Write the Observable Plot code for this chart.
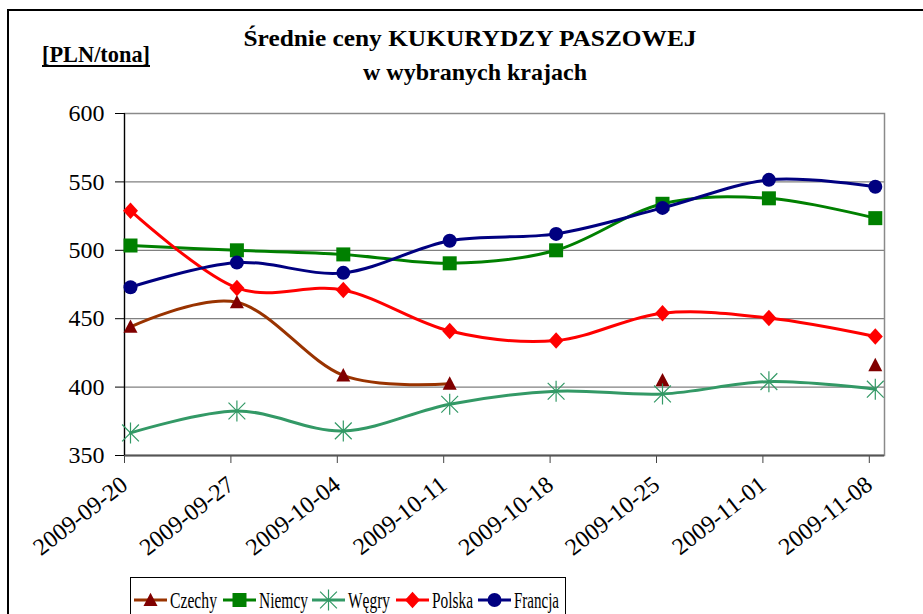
<!DOCTYPE html>
<html><head><meta charset="utf-8">
<script src="https://cdn.jsdelivr.net/npm/d3@7"></script>
<script src="https://cdn.jsdelivr.net/npm/@observablehq/plot@0.6"></script>
<style>
html,body{margin:0;padding:0;background:#fff;}
#wrap{position:relative;width:923px;height:614px;overflow:hidden;font-family:'Liberation Serif','DejaVu Serif',serif;background:#fff;}
#chart{position:absolute;left:0;top:0;}
#border{position:absolute;left:7px;top:9px;width:940px;height:640px;border-left:2px solid #000;border-top:2px solid #000;pointer-events:none;}
#overlay{position:absolute;left:0;top:0;pointer-events:none;}
#overlay text, #chart text{font-family:'Liberation Serif','DejaVu Serif',serif;}
</style></head><body>
<div id="wrap"><div id="chart"></div><div id="border"></div><svg id="overlay" width="923" height="614"></svg></div>
<script>
// ---- data ----
const dates = ["2009-09-20","2009-09-27","2009-10-04","2009-10-11","2009-10-18","2009-10-25","2009-11-01","2009-11-08"];
const czechy  = [444, 462, 408.5, 402.5, null, 405, null, 416];
const niemcy  = [503.5, 500, 497, 490.5, 500, 534, 538, 523.5];
const wegry   = [366.5, 382.5, 368, 387.5, 397, 395, 404, 398.5];
const polska  = [529, 472.5, 471, 441, 434, 454, 450.5, 437];
const francja = [473, 491, 483.5, 507, 512, 531, 551.5, 546.5];
const seriesNames = ["Czechy","Niemcy","Węgry","Polska","Francja"];
const yTicks = [350, 400, 450, 500, 550, 600];
const titleLine1 = "Średnie ceny KUKURYDZY PASZOWEJ";
const titleLine2 = "w wybranych krajach";
const unitLabel = "[PLN/tona]";

// ---- styles ----
const lineColors   = ["#993300","#008000","#339966","#ff0000","#000080"];
const markerColors = ["#800000","#008000","#339966","#ff0000","#000080"];
const FONT = "'Liberation Serif','DejaVu Serif',serif";

const rad = size => Math.sqrt(size / Math.PI);
const symTriangle = {draw(c, s){const r = rad(s); c.moveTo(0,-r*1.05); c.lineTo(r, r*0.85); c.lineTo(-r, r*0.85); c.closePath();}};
const symSquare = {draw(c, s){const r = rad(s); c.rect(-r,-r,2*r,2*r);}};
const symStar = {draw(c, s){const r = rad(s); const d = r*0.8; c.moveTo(0,-r); c.lineTo(0,r); c.moveTo(-d,-d); c.lineTo(d,d); c.moveTo(-d,d); c.lineTo(d,-d);}};
const symDiamond = {draw(c, s){const r = rad(s); c.moveTo(0,-r*1.1); c.lineTo(r,0); c.lineTo(0,r*1.1); c.lineTo(-r,0); c.closePath();}};
const symCircle = {draw(c, s){const r = rad(s); c.moveTo(r,0); c.arc(0,0,r,0,2*Math.PI);}};
const symbols = [symTriangle, symSquare, symStar, symDiamond, symCircle];
const symR = [7, 7, 10.5, 7.5, 7];
const strokeSym = [false, false, true, false, false];

const parse = d3.utcParse("%Y-%m-%d");
const xDates = dates.map(parse);
const values = [czechy, niemcy, wegry, polska, francja];
const rows = [];
seriesNames.forEach((s, i) => dates.forEach((d, j) => rows.push({series: s, idx: i, date: xDates[j], value: values[i][j]})));

const marks = [
  Plot.gridY({ticks: [400, 450, 500, 550], stroke: "#808080", strokeOpacity: 1, strokeWidth: 1.2}),
  Plot.frame({stroke: "#8a8a8a", strokeWidth: 1.5}),
  Plot.axisY({ticks: yTicks, tickSize: 9, tickPadding: 11, fontSize: 24, tickFormat: d => String(d), stroke: "#000", label: null}),
  Plot.axisX({ticks: xDates, tickFormat: d3.utcFormat("%Y-%m-%d"), tickRotate: -38, tickSize: 8, tickPadding: 18, fontSize: 24, stroke: "#444", label: null}),
  Plot.ruleY([350], {stroke: "#555", strokeWidth: 2}),
  Plot.ruleX([xDates[0]], {stroke: "#000", strokeWidth: 1.2})
];
seriesNames.forEach((s, i) => {
  const sub = rows.filter(r => r.idx === i);
  marks.push(Plot.line(sub, {x: "date", y: "value", stroke: lineColors[i], strokeWidth: 3, curve: "cardinal", dx: 6}));
  const pts = sub.filter(r => r.value != null);
  if (strokeSym[i]) {
    marks.push(Plot.dot(pts, {x: "date", y: "value", symbol: symbols[i], r: symR[i], fill: "none", stroke: markerColors[i], strokeWidth: 1.2, dx: 6}));
  } else {
    marks.push(Plot.dot(pts, {x: "date", y: "value", symbol: symbols[i], r: symR[i], fill: markerColors[i], stroke: "none", dx: 6}));
  }
});

const chart = Plot.plot({
  width: 923, height: 614,
  marginLeft: 124, marginRight: 39, marginTop: 113, marginBottom: 159,
  style: {fontFamily: FONT, color: "#000", background: "transparent", overflow: "visible"},
  x: {type: "utc", domain: [parse("2009-09-20"), parse("2009-11-09")], label: null},
  y: {domain: [350, 600], label: null},
  marks
});
document.getElementById("chart").appendChild(chart);

// ---- titles & legend ----
const ov = d3.select("#overlay");
ov.append("text").attr("x", 470).attr("y", 46).attr("text-anchor", "middle")
  .style("font-family", FONT).attr("font-weight", "bold").attr("font-size", 23)
  .attr("textLength", 453).attr("lengthAdjust", "spacingAndGlyphs").text(titleLine1);
ov.append("text").attr("x", 475).attr("y", 80).attr("text-anchor", "middle")
  .style("font-family", FONT).attr("font-weight", "bold").attr("font-size", 23)
  .attr("textLength", 224).attr("lengthAdjust", "spacingAndGlyphs").text(titleLine2);
ov.append("text").attr("x", 42).attr("y", 62)
  .style("font-family", FONT).attr("font-weight", "bold").attr("font-size", 23)
  .attr("textLength", 108).attr("lengthAdjust", "spacingAndGlyphs").text(unitLabel);
ov.append("line").attr("x1", 42).attr("x2", 150).attr("y1", 66).attr("y2", 66).attr("stroke", "#000").attr("stroke-width", 2);

const lg = ov.append("g");
lg.append("rect").attr("x", 130.5).attr("y", 577.5).attr("width", 435).attr("height", 60)
  .attr("fill", "#fff").attr("stroke", "#000").attr("stroke-width", 1);
const legX = [134, 223, 312, 396, 478];
const legW = [47, 49, 42, 41, 45];
seriesNames.forEach((s, i) => {
  const x0 = legX[i], cy = 600;
  lg.append("line").attr("x1", x0).attr("x2", x0 + 33).attr("y1", cy).attr("y2", cy)
    .attr("stroke", lineColors[i]).attr("stroke-width", 3);
  const p = lg.append("path").attr("transform", `translate(${x0 + 16.5},${cy})`)
    .attr("d", d3.symbol(symbols[i], Math.PI * symR[i] * symR[i])());
  if (strokeSym[i]) p.attr("fill", "none").attr("stroke", markerColors[i]).attr("stroke-width", 1.2);
  else p.attr("fill", markerColors[i]);
  lg.append("text").attr("x", x0 + 36).attr("y", 608).style("font-family", FONT).attr("font-size", 24)
    .attr("textLength", legW[i]).attr("lengthAdjust", "spacingAndGlyphs").text(s);
});
</script>
</body></html>
